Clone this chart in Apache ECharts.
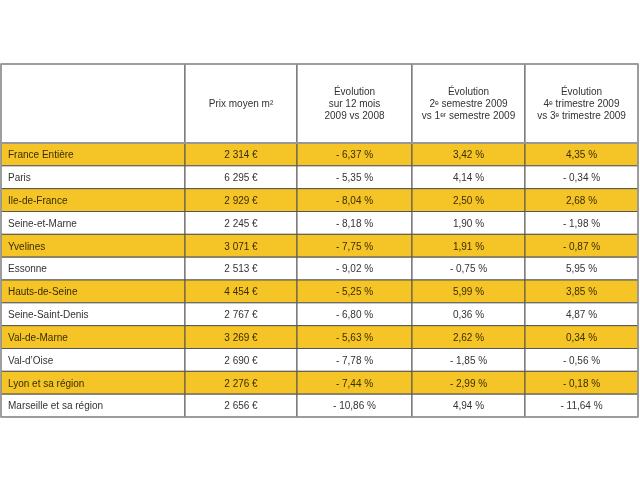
<!DOCTYPE html>
<html>
<head>
<meta charset="utf-8">
<script src="https://cdn.jsdelivr.net/npm/echarts@6/dist/echarts.min.js"></script>
<style>html,body{margin:0;padding:0;background:#fff}#c{width:640px;height:480px}</style>
</head>
<body>
<div id="c"></div>
<script>
var regions = ['France Entière','Paris','Ile-de-France','Seine-et-Marne','Yvelines','Essonne','Hauts-de-Seine','Seine-Saint-Denis','Val-de-Marne','Val-d\u2019Oise','Lyon et sa région','Marseille et sa région'];
var prixMoyen = [2314,6295,2929,2245,3071,2513,4454,2767,3269,2690,2276,2656];
var evol12Mois = [-6.37,-5.35,-8.04,-8.18,-7.75,-9.02,-5.25,-6.80,-5.63,-7.78,-7.44,-10.86];
var evolSemestre = [3.42,4.14,2.50,1.90,1.91,-0.75,5.99,0.36,2.62,-1.85,-2.99,4.94];
var evolTrimestre = [4.35,-0.34,2.68,-1.98,-0.87,5.95,3.85,4.87,0.34,-0.56,-0.18,-11.64];
var headers = ['', 'Prix moyen m\u00b2', '\u00c9volution\nsur 12 mois\n2009 vs 2008', '\u00c9volution\n2\u1d49 semestre 2009\nvs 1\u1d49\u02b3 semestre 2009', '\u00c9volution\n4\u1d49 trimestre 2009\nvs 3\u1d49 trimestre 2009'];

// layout (column edges in px units of the x axis)
var colEdges = [0, 184, 296, 411, 524, 637];
var YELLOW = '#f5c426';
var FONT = 'Liberation Sans, Arial, sans-serif';

function fmtPrix(v){ var s = String(v); return s.replace(/\B(?=(\d{3})+(?!\d))/g, ' ') + ' \u20ac'; }
function fmtPct(v){ var s = Math.abs(v).toFixed(2).replace('.', ','); return (v < 0 ? '- ' : '') + s + ' %'; }

function cellText(c, r){
  if (c === 0) return regions[r];
  if (c === 1) return fmtPrix(prixMoyen[r]);
  if (c === 2) return fmtPct(evol12Mois[r]);
  if (c === 3) return fmtPct(evolSemestre[r]);
  return fmtPct(evolTrimestre[r]);
}

var bodyData = [];
for (var r = 0; r < regions.length; r++) for (var c = 0; c < 5; c++) bodyData.push([c, r]);
var headData = [];
for (var c2 = 0; c2 < 5; c2++) headData.push([c2, 0]);

function makeRender(isHeader){
  return function(params, api){
    var c = api.value(0), r = api.value(1);
    var p0 = api.coord([colEdges[c], r]);
    var p1 = api.coord([colEdges[c+1], r]);
    var h = api.size([0, 1])[1];
    var x0 = p0[0], x1 = p1[0], y0 = p0[1] - h/2;
    var yellow = !isHeader && r % 2 === 0;
    var txt = isHeader ? headers[c] : cellText(c, r);
    var left = (c === 0);
    return {
      type: 'group',
      children: [
        { type: 'rect', shape: {x: x0, y: y0, width: x1 - x0, height: h},
          style: {fill: yellow ? YELLOW : '#ffffff', stroke: '#555', lineWidth: 1} },
        { type: 'text', x: left ? x0 + 7 : (x0 + x1) / 2, y: y0 + h/2 + (isHeader ? 1 : 1),
          style: {text: txt, fill: yellow ? '#3a2e00' : '#333', font: '10px ' + FONT,
                  align: left ? 'left' : 'center', verticalAlign: 'middle', lineHeight: 12} }
      ]
    };
  };
}

var chart = echarts.init(document.getElementById('c'), null, {renderer: 'canvas'});
chart.setOption({
  animation: false,
  grid: [
    {left: 1, top: 64, width: 637, height: 79, show: true, borderColor: '#999', borderWidth: 1.5, backgroundColor: 'transparent', z: 5},
    {left: 1, top: 143, width: 637, height: 274, show: true, borderColor: '#999', borderWidth: 1.5, backgroundColor: 'transparent', z: 5}
  ],
  xAxis: [
    {gridIndex: 0, type: 'value', min: 0, max: 637, show: false},
    {gridIndex: 1, type: 'value', min: 0, max: 637, show: false}
  ],
  yAxis: [
    {gridIndex: 0, type: 'category', data: ['header'], show: false},
    {gridIndex: 1, type: 'category', data: regions, inverse: true, show: false}
  ],
  series: [
    {type: 'custom', xAxisIndex: 0, yAxisIndex: 0, data: headData, renderItem: makeRender(true), silent: true},
    {type: 'custom', xAxisIndex: 1, yAxisIndex: 1, data: bodyData, renderItem: makeRender(false), silent: true}
  ]
});
</script>
</body>
</html>
